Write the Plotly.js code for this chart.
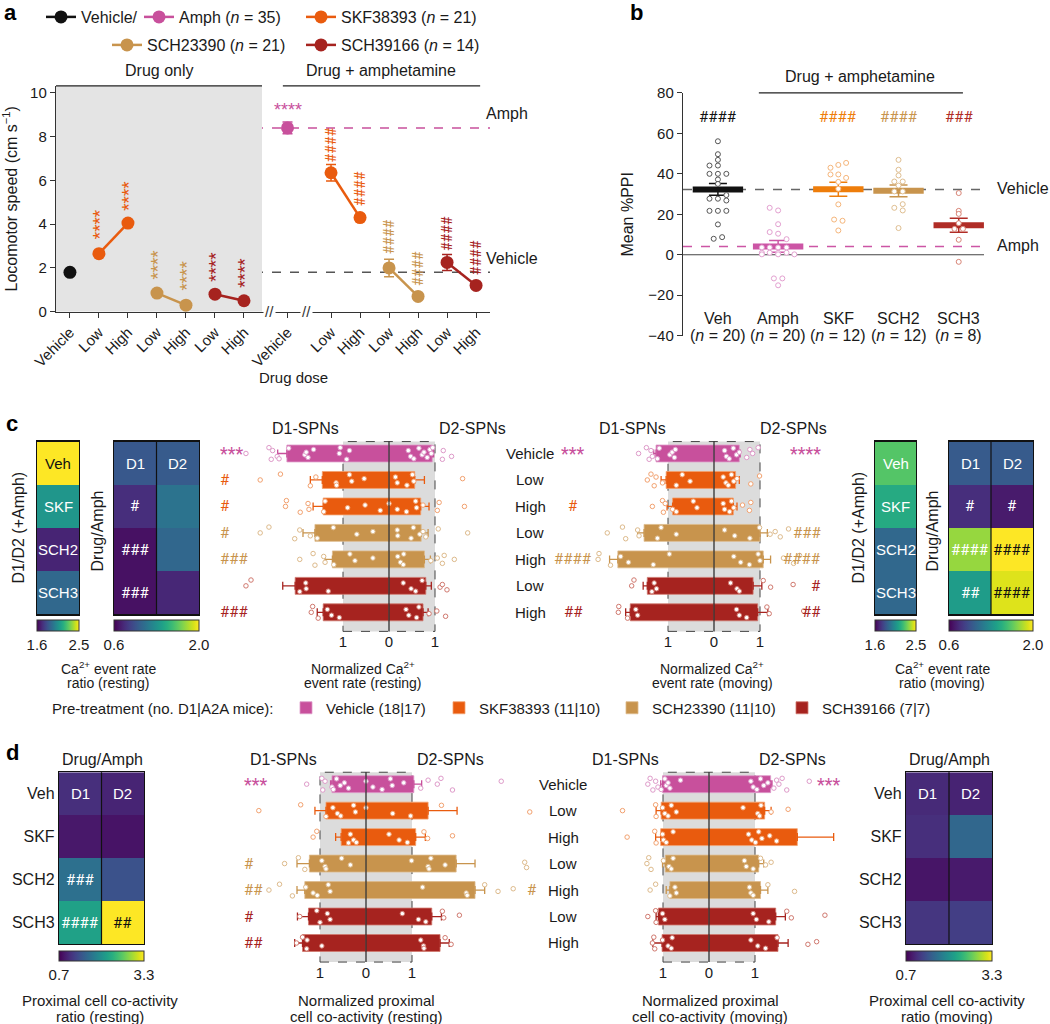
<!DOCTYPE html>
<html>
<head>
<meta charset="utf-8">
<script src="https://cdn.plot.ly/plotly-3.0.1.min.js"></script>
<style>
  body { margin: 0; background: #fff; }
  #fig { width: 1050px; height: 1024px; }
</style>
</head>
<body>
<div id="fig"></div>
<script>
// ===================== FIGURE GEOMETRY =====================
// page is 1050 x 1024 px, margins 0, so paper fractions = px / size
const W = 1050, H = 1024;
const FONT = '"Liberation Sans", Arial, sans-serif';
const SIG_FONT = 'Roboto, "Liberation Sans", sans-serif';   // upright '#' when stacked
const fx = p => p / W;
const fy = p => 1 - p / H;
const dom = (a, b) => [a / W, b / W];
const vdom = (top, bot) => [1 - bot / H, 1 - top / H];

// ===================== COLOURS =====================
const PINK = '#C8509C', ORANGE = '#E95B0E', TAN = '#C8944D', RED = '#A6231F';
const groupColor = [PINK, ORANGE, TAN, RED];
const groupLight = ['#DE9AC9', '#F2A16F', '#DDBA8B', '#D0786E'];

// ===================== PANEL A DATA (locomotor speed, cm/s) =====================
const doseLabels = ['Vehicle', 'Low', 'High', 'Low', 'High', 'Low', 'High',
                    'Vehicle', 'Low', 'High', 'Low', 'High', 'Low', 'High'];
const dosePos = [0, 1, 2, 3, 4, 5, 6, 7.5, 9, 10, 11, 12, 13, 14];
const vehSpeed = [1.8],  vehSpeedErr = [0.1];
const amphSpeed = [8.4], amphSpeedErr = [0.27];
const skfOnlySpeed = [2.65, 4.05],  skfOnlyErr = [0.12, 0.15];
const sch2OnlySpeed = [0.85, 0.3],  sch2OnlyErr = [0.1, 0.08];
const sch3OnlySpeed = [0.8, 0.5],   sch3OnlyErr = [0.1, 0.08];
const skfAmphSpeed = [6.35, 4.3],   skfAmphErr = [0.38, 0.15];
const sch2AmphSpeed = [2.0, 0.7],   sch2AmphErr = [0.4, 0.12];
const sch3AmphSpeed = [2.25, 1.2],  sch3AmphErr = [0.37, 0.12];
const onlySig = ['****', '****', '****', '****', '****', '****'];
const onlySigY = [4.0, 5.3, 2.15, 1.65, 2.05, 1.78];
const amphSig = ['####', '####', '####', '####', '####', '####'];
const amphSigY = [7.6, 5.6, 3.4, 1.95, 3.55, 2.45];

// ===================== PANEL B DATA (mean %PPI) =====================
const ppiGroups = ['Veh', 'Amph', 'SKF', 'SCH2', 'SCH3'];
const ppiN = ['20', '20', '12', '12', '8'];
const ppiMean = [32.3, 4.1, 32.4, 31.6, 14.6];
const ppiErr = [2.9, 2.9, 3.5, 2.9, 3.5];
const ppiSig = ['####', '', '####', '####', '###'];
const ppiVeh  = [56.1, 49.7, 46.9, 44.1, 44.1, 40.0, 40.0, 40.0, 37.2, 35.0, 29.5, 27.7, 27.7, 26.8, 21.7, 21.7, 21.7, 15.0, 7.9, 8.7];
const ppiAmph = [23.2, 21.9, 15.1, 11.2, 10.4, 7.7, 3.6, 3.6, 3.6, 3.6, 1.0, 1.0, 1.0, 1.0, 0.2, 0.2, 0.2, -11.7, -11.7, -15.1];
const ppiSkf  = [45.4, 44.4, 43.0, 39.7, 39.7, 38.0, 36.0, 32.6, 24.9, 17.4, 16.8, 12.0];
const ppiSch2 = [46.9, 42.0, 39.2, 36.2, 36.2, 34.2, 31.3, 31.3, 25.0, 23.2, 21.9, 13.2];
const ppiSch3 = [30.5, 21.7, 20.2, 15.6, 12.8, 12.8, 7.4, -3.5];
// horizontal spread of the dots (category units)
const ppiVehJit  = [0, 0, 0, -0.14, 0, -0.14, 0, 0.14, 0, 0, 0.14, -0.14, 0, 0.14, -0.14, 0, 0.14, 0, -0.07, 0.07];
const ppiAmphJit = [-0.14, 0, 0, -0.14, 0, 0.14, -0.27, -0.14, 0, 0.14, -0.27, -0.14, 0, 0.14, -0.27, 0, 0.27, -0.07, 0.07, 0];
const ppiSkfJit  = [0.13, 0, -0.13, -0.13, 0, 0.13, 0, 0, 0, -0.07, 0.07, 0];
const ppiSch2Jit = [0, 0, 0, -0.07, 0.07, 0, -0.07, 0.07, 0.07, -0.07, 0.07, 0];
const ppiSch3Jit = [0, 0, 0, 0, -0.07, 0.07, 0, 0];

// ===================== PANELS C/D SHARED =====================
const rowLabels = ['Vehicle', 'Low', 'High', 'Low', 'High', 'Low', 'High'];
const rowGroup = [0, 1, 1, 2, 2, 3, 3];
const groupNames = ['Vehicle (18|17)', 'SKF38393 (11|10)', 'SCH23390 (11|10)', 'SCH39166 (7|7)'];
const heatRows = ['Veh', 'SKF', 'SCH2', 'SCH3'];

// ---- c: Ca2+ event rate, resting ----
const caRestD1 = [2.22, 1.45, 1.43, 1.61, 1.23, 2.04, 1.43];
const caRestD1Err = [0.2, 0.26, 0.22, 0.26, 0.16, 0.27, 0.13];
const caRestD2 = [0.94, 0.56, 0.69, 0.70, 0.77, 0.80, 0.74];
const caRestD2Err = [0.03, 0.21, 0.18, 0.15, 0.13, 0.12, 0.11];
const caRestD1Pts = [
  [3.11, 2.61, 2.56, 2.53, 2.43, 2.39, 2.18, 1.83, 1.80, 1.76, 1.64, 1.08, 1.06, 0.92, 0.86],
  [2.80, 2.36, 1.71, 1.59, 1.15, 1.14, 0.86, 0.81, 0.54],
  [2.25, 2.23, 1.93, 1.76, 1.74, 1.42, 1.39, 0.90, 0.52, 0.19],
  [2.80, 2.61, 2.05, 1.94, 1.71, 1.56, 1.21, 0.70, 0.35],
  [1.94, 1.65, 1.61, 1.42, 1.39, 1.20, 0.85, 0.74, 0.35],
  [3.11, 3.00, 1.94, 1.81, 1.80, 1.32],
  [1.69, 1.66, 1.54, 1.34, 1.25, 1.08]
];
const caRestD2Pts = [
  [0.42, 0.47, 0.54, 0.65, 0.72, 0.76, 0.83, 0.89, 0.92, 0.95, 1.16, 1.18, 1.36],
  [0.14, 0.18, 0.39, 0.51, 0.54, 1.60],
  [0.00, 0.18, 0.38, 0.58, 0.60, 0.74, 1.05, 1.09, 1.64],
  [0.18, 0.19, 0.48, 0.53, 0.67, 0.74, 0.80, 1.07, 1.71],
  [0.19, 0.25, 0.31, 0.32, 0.91, 1.05, 1.16, 1.20, 1.42],
  [0.31, 0.48, 0.58, 0.72, 1.11, 1.16, 1.26],
  [0.37, 0.43, 0.60, 0.65, 0.87, 1.04, 1.23]
];
const caRestSigL = ['***', '#', '#', '#', '###', '', '###'];

// ---- c: Ca2+ event rate, moving ----
const caMoveD1 = [1.26, 1.04, 0.90, 1.52, 2.09, 1.45, 1.82];
const caMoveD1Err = [0.05, 0.11, 0.12, 0.14, 0.18, 0.09, 0.10];
const caMoveD2 = [0.55, 0.47, 0.42, 1.00, 1.07, 0.85, 0.95];
const caMoveD2Err = [0.02, 0.08, 0.08, 0.16, 0.16, 0.19, 0.22];
const caMoveD1Pts = [
  [1.64, 1.47, 1.41, 1.37, 1.34, 1.23, 1.19, 0.96, 0.91, 0.86, 0.84],
  [1.45, 1.37, 1.30, 1.26, 1.12, 0.82, 0.69, 0.52],
  [1.34, 1.12, 1.10, 1.06, 0.90, 0.82, 0.45, 0.37],
  [2.32, 1.99, 1.92, 1.66, 1.63, 1.23, 1.15, 0.82],
  [2.52, 2.50, 2.25, 2.03, 1.86, 1.32, 0.97],
  [1.79, 1.74, 1.35, 1.30, 1.25],
  [2.08, 2.07, 1.88, 1.70, 1.66]
];
const caMoveD2Pts = [
  [0.23, 0.27, 0.33, 0.42, 0.49, 0.55, 0.71, 0.78, 0.84, 0.96],
  [0.20, 0.26, 0.31, 0.38, 0.43, 0.50, 0.80, 0.99],
  [0.20, 0.23, 0.34, 0.38, 0.43, 0.62, 0.77, 0.80],
  [0.23, 0.45, 0.78, 0.99, 1.22, 1.33, 1.44, 1.62],
  [0.43, 0.58, 0.77, 0.96, 1.00, 1.51, 1.73, 1.86],
  [0.36, 0.50, 0.55, 1.07, 1.23, 1.72],
  [0.49, 0.55, 0.71, 1.15, 1.20, 1.95]
];
const caMoveSigL = ['***', '', '#', '', '####', '', '##'];
const caMoveSigR = ['****', '', '', '###', '####', '#', '##'];

// ---- c: heatmaps ----
const ratioRest = [2.5, 2.07, 1.69, 1.9];
const ratioMove = [2.26, 2.15, 1.9, 1.9];
const drugRestD1 = [0.98, 0.78, 0.66, 0.66];
const drugRestD2 = [1.0, 1.13, 1.06, 0.75];
const drugRestText = [['D1', 'D2'], ['#', ''], ['###', ''], ['###', '']];
const drugMoveD1 = [1.0, 0.78, 1.78, 1.37];
const drugMoveD2 = [1.0, 0.7, 2.0, 1.93];
const drugMoveText = [['D1', 'D2'], ['#', '#'], ['####', '####'], ['##', '####']];

// ---- d: proximal co-activity, resting ----
const coRestD1 = [0.74, 0.87, 0.54, 1.23, 1.33, 1.25, 1.38];
const coRestD1Err = [0.03, 0.24, 0.12, 0.27, 0.17, 0.24, 0.17];
const coRestD2 = [1.04, 1.35, 1.08, 1.96, 2.37, 1.43, 1.61];
const coRestD2Err = [0.17, 0.63, 0.21, 0.41, 0.21, 0.21, 0.20];
const coRestD1Pts = [
  [1.29, 0.96, 0.94, 0.89, 0.74, 0.71, 0.64, 0.56, 0.47, 0.38],
  [2.33, 1.42, 0.87, 0.72, 0.62, 0.55, 0.27, 0.23],
  [1.15, 1.07, 0.38, 0.34, 0.27, 0.21],
  [1.77, 1.47, 1.33, 0.96, 0.89, 0.87, 0.53, 0.34],
  [2.11, 1.88, 1.60, 1.31, 1.15, 1.06, 0.82, 0.78],
  [1.44, 1.07, 1.00, 0.84, 0.78],
  [1.51, 1.38, 1.29, 1.28, 0.96]
];
const coRestD2Pts = [
  [0.00, 0.15, 0.35, 0.53, 0.57, 0.82, 1.19, 1.35, 1.55, 1.63, 1.88, 2.94],
  [0.00, 0.58, 0.97, 1.64, 3.56],
  [0.50, 0.72, 0.90, 1.26, 1.34, 1.88],
  [0.99, 1.35, 1.37, 1.41, 1.72, 3.45, 3.49],
  [1.23, 2.18, 2.20, 2.58, 2.87, 3.20],
  [0.79, 1.14, 1.30, 1.66, 1.69, 2.03],
  [1.19, 1.25, 1.26, 1.72, 1.85]
];
const coRestSigL = ['***', '', '', '#', '##', '#', '##'];
const coRestSigR = ['', '', '', '', '#', '', ''];

// ---- d: proximal co-activity, moving ----
const coMoveD1 = [1.01, 1.04, 1.05, 0.95, 0.85, 1.10, 1.02];
const coMoveD1Err = [0.04, 0.11, 0.11, 0.06, 0.08, 0.05, 0.20];
const coMoveD2 = [1.34, 1.21, 1.92, 1.08, 1.12, 1.45, 1.50];
const coMoveD2Err = [0.03, 0.14, 0.79, 0.11, 0.16, 0.21, 0.22];
const coMoveD1Pts = [
  [1.33, 1.28, 1.22, 1.16, 1.11, 1.04, 0.96, 0.93, 0.89, 0.85, 0.62],
  [1.88, 1.16, 1.15, 1.01, 0.96, 0.89, 0.82, 0.71],
  [1.78, 1.18, 1.15, 1.01, 0.99, 0.93, 0.78],
  [1.35, 1.31, 1.26, 0.99, 0.87, 0.82, 0.78],
  [1.28, 1.16, 0.85, 0.74, 0.71],
  [1.33, 1.16, 1.15, 1.01, 0.96],
  [1.23, 1.20, 1.18, 1.01, 0.89, 0.82, 0.80]
];
const coMoveD2Pts = [
  [0.91, 0.96, 1.04, 1.12, 1.19, 1.28, 1.41, 1.47, 1.52, 1.59, 1.69, 2.18],
  [0.74, 1.06, 1.10, 1.13, 1.35, 1.72],
  [0.86, 0.93, 1.01, 1.08, 1.15, 1.32, 1.47],
  [0.77, 0.81, 0.96, 1.12, 1.23, 1.35],
  [0.88, 0.91, 0.96, 1.28, 1.86],
  [0.96, 1.03, 1.30, 1.69, 1.79, 2.52],
  [0.91, 1.06, 1.23, 1.48, 2.15, 2.34]
];
const coMoveSigR = ['***', '', '', '', '', '', ''];

// ---- d: heatmaps ----
const coDrugRestD1 = [1.04, 0.86, 1.66, 2.18];
const coDrugRestD2 = [0.96, 0.83, 1.35, 3.3];
const coDrugRestText = [['D1', 'D2'], ['', ''], ['###', ''], ['####', '##']];
const coDrugMoveD1 = [1.0, 1.04, 0.84, 1.1];
const coDrugMoveD2 = [0.95, 1.56, 0.88, 1.17];
const coDrugMoveText = [['D1', 'D2'], ['', ''], ['', ''], ['', '']];

// vertical spread of dots inside a bar row (row units)
const JIT = [0, -0.22, 0.22, -0.11, 0.11, 0.2, -0.2, 0.05, -0.05, 0.15, -0.15];

// ===================== BUILDERS =====================
const traces = [], annotations = [], shapes = [];
const layout = {};
const INK = '#1a1a1a';

function label(x, y, text, o = {}) {
    annotations.push(Object.assign({
        xref: 'paper', yref: 'paper', x: fx(x), y: fy(y), text: text, showarrow: false,
        xanchor: 'center', yanchor: 'middle', font: { size: 15, color: INK }
    }, o));
}
function textLines(x, y, pitch, arr, size) {
    arr.forEach((t, i) => label(x, y + i * pitch, t, { font: { size: size, color: INK } }));
}

// -------- panel a --------
function speed(x, y, err, color, name, legend, show) {
    return {
        type: 'scatter', mode: 'lines+markers', xaxis: 'x', yaxis: 'y', x: x, y: y,
        name: name, legend: legend, showlegend: show, hoverinfo: 'skip', cliponaxis: false,
        line: { color: color, width: 2.5 }, marker: { color: color, size: 13 },
        error_y: { type: 'data', array: err, color: color, thickness: 1.5, width: 5 }
    };
}
traces.push(speed([dosePos[0]], vehSpeed, vehSpeedErr, '#111', 'Vehicle/', 'legend', true));
traces.push(speed([dosePos[7]], amphSpeed, amphSpeedErr, PINK, 'Amph (<i>n</i> = 35)', 'legend6', true));
traces.push(speed(dosePos.slice(1, 3), skfOnlySpeed, skfOnlyErr, ORANGE, 'SKF38393 (<i>n</i> = 21)', 'legend4', true));
traces.push(speed(dosePos.slice(8, 10), skfAmphSpeed, skfAmphErr, ORANGE, '', 'legend4', false));
traces.push(speed(dosePos.slice(3, 5), sch2OnlySpeed, sch2OnlyErr, TAN, 'SCH23390 (<i>n</i> = 21)', 'legend3', true));
traces.push(speed(dosePos.slice(10, 12), sch2AmphSpeed, sch2AmphErr, TAN, '', 'legend3', false));
traces.push(speed(dosePos.slice(5, 7), sch3OnlySpeed, sch3OnlyErr, RED, 'SCH39166 (<i>n</i> = 14)', 'legend5', true));
traces.push(speed(dosePos.slice(12, 14), sch3AmphSpeed, sch3AmphErr, RED, '', 'legend5', false));

const aRange = [-0.48, 14.48];
const aBreak = 6.62;
layout.xaxis = {
    domain: dom(56, 490), range: aRange, anchor: 'y', tickvals: dosePos, ticktext: doseLabels,
    tickangle: -45, ticks: 'outside', ticklen: 5, tickcolor: '#333', showline: true,
    linecolor: '#333', linewidth: 1.2, showgrid: false, zeroline: false, tickfont: { size: 15 }
};
layout.yaxis = {
    domain: vdom(85, 311), range: [0, 10.32], anchor: 'x', tickvals: [0, 2, 4, 6, 8, 10],
    ticks: 'outside', ticklen: 5, tickcolor: '#333', showline: true, linecolor: '#333',
    linewidth: 1.2, showgrid: false, zeroline: false, tickfont: { size: 15 },
    title: { text: 'Locomotor speed (cm s<sup>−1</sup>)', font: { size: 16 }, standoff: 10 }
};
shapes.push({ type: 'rect', xref: 'x', yref: 'y', x0: aRange[0], x1: aBreak, y0: 0, y1: 10.32,
              fillcolor: '#E4E4E4', line: { width: 0 }, layer: 'below' });
shapes.push({ type: 'line', xref: 'x domain', yref: 'y', x0: 0, x1: 1, y0: vehSpeed[0], y1: vehSpeed[0],
              line: { color: '#555', width: 1.5, dash: 'dash' }, layer: 'below' });
shapes.push({ type: 'line', xref: 'x domain', yref: 'y', x0: 0, x1: 1, y0: amphSpeed[0], y1: amphSpeed[0],
              line: { color: PINK, width: 1.5, dash: 'dash' }, layer: 'below' });
shapes.push({ type: 'line', xref: 'x', yref: 'paper', x0: aRange[0], x1: aBreak, y0: fy(85), y1: fy(85),
              line: { color: '#222', width: 1.3 } });
shapes.push({ type: 'line', xref: 'x', yref: 'paper', x0: 7.34, x1: 14.14, y0: fy(85), y1: fy(85),
              line: { color: '#222', width: 1.3 } });
[6.88, 8.16].forEach(b => annotations.push({ xref: 'x', yref: 'y', x: b, y: 0, text: '//', showarrow: false,
    bgcolor: '#fff', font: { size: 15, color: '#333' } }));

const onlyColors = [ORANGE, ORANGE, TAN, TAN, RED, RED];
onlySig.forEach((t, i) => annotations.push({ xref: 'x', yref: 'y', x: dosePos[i + 1], y: onlySigY[i], text: t,
    textangle: -90, showarrow: false, font: { family: SIG_FONT, size: 17, color: onlyColors[i] } }));
amphSig.forEach((t, i) => annotations.push({ xref: 'x', yref: 'y', x: dosePos[i + 8], y: amphSigY[i], text: t,
    textangle: -90, showarrow: false, font: { family: SIG_FONT, size: 14, color: onlyColors[i] } }));
annotations.push({ xref: 'x', yref: 'y', x: dosePos[7], y: 9.22, text: '****', showarrow: false,
    font: { size: 18, color: PINK } });

label(159, 70, 'Drug only', { font: { size: 16 } });
label(381, 70, 'Drug + amphetamine', { font: { size: 16 } });
label(484, 113, 'Amph', { xanchor: 'left', font: { size: 16 } });
label(484, 258, 'Vehicle', { xanchor: 'left', font: { size: 16 } });
label(293, 377, 'Drug dose', { font: { size: 15 } });

// -------- panel b --------
const ppiColors = ['#111111', '#CC55A5', '#EE7D0A', '#C8944D', '#B02C26'];
const ppiLight = ['#555555', '#E3A0D0', '#F5B57A', '#DFBE90', '#D88476'];
const ppiPoints = [ppiVeh, ppiAmph, ppiSkf, ppiSch2, ppiSch3];
const ppiJit = [ppiVehJit, ppiAmphJit, ppiSkfJit, ppiSch2Jit, ppiSch3Jit];
ppiMean.forEach((m, g) => {
    traces.push({
        type: 'scatter', mode: 'markers', xaxis: 'x2', yaxis: 'y2', x: [g], y: [m],
        marker: { symbol: 'line-ew', size: 36, color: ppiColors[g], line: { color: ppiColors[g], width: 6 } },
        error_y: { type: 'data', array: [ppiErr[g]], color: ppiColors[g], thickness: 1.5, width: 9 },
        showlegend: false, hoverinfo: 'skip'
    });
    traces.push({
        type: 'scatter', mode: 'markers', xaxis: 'x2', yaxis: 'y2',
        x: ppiPoints[g].map((v, i) => g + ppiJit[g][i]), y: ppiPoints[g],
        marker: { color: '#fff', size: 5, line: { color: ppiLight[g], width: 1 } },
        showlegend: false, hoverinfo: 'skip', cliponaxis: false
    });
    if (ppiSig[g]) annotations.push({ xref: 'x2', yref: 'y2', x: g, y: 68.3, text: ppiSig[g], showarrow: false,
        font: { family: SIG_FONT, size: 15, color: ppiColors[g] } });
    annotations.push({ xref: 'x2', yref: 'paper', x: g, y: fy(307), text: ppiGroups[g], showarrow: false,
        font: { size: 16, color: INK } });
    annotations.push({ xref: 'x2', yref: 'paper', x: g, y: fy(324), text: '(<i>n</i> = ' + ppiN[g] + ')',
        showarrow: false, font: { size: 16, color: INK } });
});
layout.xaxis2 = { domain: dom(683, 984), range: [-0.58, 4.42], anchor: 'y2', visible: false };
layout.yaxis2 = {
    domain: vdom(92, 335), range: [-40, 80], anchor: 'x2', tickvals: [-40, -20, 0, 20, 40, 60, 80],
    ticks: 'outside', ticklen: 5, tickcolor: '#333', showline: true, linecolor: '#333', linewidth: 1.2,
    showgrid: false, zeroline: false, tickfont: { size: 15 },
    title: { text: 'Mean %PPI', font: { size: 16 }, standoff: 10 }
};
shapes.push({ type: 'line', xref: 'x2 domain', yref: 'y2', x0: 0, x1: 1, y0: 0, y1: 0,
              line: { color: '#444', width: 1.2 }, layer: 'below' });
shapes.push({ type: 'line', xref: 'x2 domain', yref: 'y2', x0: 0, x1: 1, y0: ppiMean[0], y1: ppiMean[0],
              line: { color: '#666', width: 1.5, dash: 'dash' }, layer: 'below' });
shapes.push({ type: 'line', xref: 'x2 domain', yref: 'y2', x0: 0, x1: 1, y0: ppiMean[1], y1: ppiMean[1],
              line: { color: ppiColors[1], width: 1.5, dash: 'dash' }, layer: 'below' });
shapes.push({ type: 'line', xref: 'x2', yref: 'paper', x0: 0.68, x1: 4.07, y0: fy(92), y1: fy(92),
              line: { color: '#222', width: 1.3 } });
label(860, 76, 'Drug + amphetamine', { font: { size: 16 } });
label(995, 188, 'Vehicle', { xanchor: 'left', font: { size: 16 } });
label(995, 245, 'Amph', { xanchor: 'left', font: { size: 16 } });

// -------- heatmaps --------
function heatmap(n, px0, px1, top, bot, zRows, zmin, zmax, cbTop, cbThick, cells, rowTicks) {
    const xa = 'x' + n, ya = 'y' + n, nCols = zRows[0].length;
    traces.push({
        type: 'heatmap', xaxis: xa, yaxis: ya, z: zRows, x: zRows[0].map((v, i) => i), y: zRows.map((v, i) => i),
        colorscale: 'Viridis', zmin: zmin, zmax: zmax, hoverinfo: 'skip',
        colorbar: {
            orientation: 'h', x: fx(px0), xanchor: 'left', y: fy(cbTop), yanchor: 'top',
            len: px1 - px0, lenmode: 'pixels', thickness: cbThick, thicknessmode: 'pixels',
            xpad: 0, ypad: 0, outlinewidth: 1, outlinecolor: '#333', tickvals: [zmin, zmax],
            ticktext: [zmin.toFixed(1), zmax.toFixed(1)], ticks: '', tickfont: { size: 15 }
        }
    });
    cells.forEach((row, r) => row.forEach((t, c) => {
        if (!t) return;
        const norm = (zRows[r][c] - zmin) / (zmax - zmin);
        annotations.push({ xref: xa, yref: ya, x: c, y: r, text: t, showarrow: false,
            font: { family: t.charAt(0) === '#' ? SIG_FONT : FONT, size: 15, color: norm > 0.9 ? '#111' : '#fff' } });
    }));
    if (nCols === 2) shapes.push({ type: 'line', xref: xa, yref: ya + ' domain', x0: 0.5, x1: 0.5, y0: 0, y1: 1,
        line: { color: '#111', width: 1.2 } });
    layout['xaxis' + n] = {
        domain: dom(px0, px1), range: [-0.5, nCols - 0.5], anchor: ya, showticklabels: false, ticks: '',
        showgrid: false, zeroline: false, showline: true, mirror: true, linecolor: '#111', linewidth: 1.2
    };
    layout['yaxis' + n] = {
        domain: vdom(top, bot), range: [3.5, -0.5], anchor: xa, showticklabels: !!rowTicks,
        tickvals: [0, 1, 2, 3], ticktext: rowTicks || heatRows, ticks: '', showgrid: false, zeroline: false,
        showline: true, mirror: true, linecolor: '#111', linewidth: 1.2, tickfont: { size: 16 }
    };
}
const pair = (a, b) => a.map((v, i) => [v, b[i]]);
heatmap(3, 37, 79, 441, 614, ratioRest.map(v => [v]), 1.6, 2.5, 620, 11, heatRows.map(r => [r]), null);
heatmap(4, 114, 199, 441, 614, pair(drugRestD1, drugRestD2), 0.6, 2.0, 620, 11, drugRestText, null);
heatmap(7, 875, 916, 441, 614, ratioMove.map(v => [v]), 1.6, 2.5, 620, 11, heatRows.map(r => [r]), null);
heatmap(8, 949, 1033, 441, 614, pair(drugMoveD1, drugMoveD2), 0.6, 2.0, 620, 11, drugMoveText, null);
heatmap(9, 59, 144, 772, 944, pair(coDrugRestD1, coDrugRestD2), 0.7, 3.3, 951, 10, coDrugRestText, heatRows);
heatmap(12, 906, 992, 772, 944, pair(coDrugMoveD1, coDrugMoveD2), 0.7, 3.3, 951, 10, coDrugMoveText, heatRows);

// -------- D1 / D2 bar panels --------
const legendIds = ['legend2', 'legend7', 'legend8', 'legend9'];
function spnPanel(n, zeroPx, range, top, bot, d1, d1e, d2, d2e, d1p, d2p, legendOn) {
    const xa = 'x' + n, ya = 'y' + n;
    for (let g = 0; g < 4; g++) {
        const rows = rowGroup.map((gg, r) => gg === g ? r : -1).filter(r => r >= 0);
        const common = { type: 'bar', orientation: 'h', xaxis: xa, yaxis: ya, y: rows, width: 0.64,
            marker: { color: groupColor[g], line: { color: groupLight[g], width: 0.8 } }, hoverinfo: 'skip' };
        traces.push(Object.assign({}, common, {
            x: rows.map(r => -d1[r]), name: groupNames[g], legend: legendIds[g], showlegend: legendOn,
            error_x: { type: 'data', symmetric: false, array: rows.map(() => 0), arrayminus: rows.map(r => d1e[r]),
                       color: groupColor[g], thickness: 1.3, width: 4 }
        }));
        traces.push(Object.assign({}, common, {
            x: rows.map(r => d2[r]), showlegend: false, legend: legendIds[g],
            error_x: { type: 'data', symmetric: false, array: rows.map(r => d2e[r]), arrayminus: rows.map(() => 0),
                       color: groupColor[g], thickness: 1.3, width: 4 }
        }));
        const xs = [], ys = [];
        rows.forEach(r => {
            d1p[r].forEach((v, i) => { xs.push(-v); ys.push(r + JIT[i % JIT.length]); });
            d2p[r].forEach((v, i) => { xs.push(v); ys.push(r + JIT[(i + 3) % JIT.length]); });
        });
        traces.push({ type: 'scatter', mode: 'markers', xaxis: xa, yaxis: ya, x: xs, y: ys, showlegend: false,
            hoverinfo: 'skip', cliponaxis: false,
            marker: { color: '#fff', size: 4.5, line: { color: groupLight[g], width: 1 } } });
    }
    layout['xaxis' + n] = {
        domain: dom(zeroPx + 46 * range[0], zeroPx + 46 * range[1]), range: range, anchor: ya,
        tickvals: [-1, 0, 1], ticktext: ['1', '0', '1'], ticks: '', showline: false, showgrid: false,
        zeroline: false, tickfont: { size: 15 }
    };
    layout['yaxis' + n] = { domain: vdom(top, bot), range: [6.72, -0.45], anchor: xa, visible: false };
    shapes.push({ type: 'rect', xref: xa, yref: ya + ' domain', x0: -1, x1: 1, y0: 0, y1: 1,
        fillcolor: '#DCDCDC', line: { color: '#444', width: 1, dash: 'dash' }, layer: 'below' });
    shapes.push({ type: 'line', xref: xa, yref: ya + ' domain', x0: 0, x1: 0, y0: 0, y1: 1,
        line: { color: '#222', width: 1.2 } });
}
function sigColumn(px, ya, sig) {
    sig.forEach((t, r) => {
        if (!t) return;
        const stars = t.charAt(0) === '*';
        annotations.push({ xref: 'paper', yref: ya, x: fx(px), y: r, text: t, showarrow: false,
            font: { family: SIG_FONT, size: stars ? 18 : 15, color: groupColor[rowGroup[r]] } });
    });
}
function rowNames(px, ya) {
    rowLabels.forEach((t, r) => annotations.push({ xref: 'paper', yref: ya, x: fx(px), y: r, text: t,
        showarrow: false, font: { size: 15, color: INK } }));
}

spnPanel(5, 389, [-3.3, 2.0], 441, 631, caRestD1, caRestD1Err, caRestD2, caRestD2Err, caRestD1Pts, caRestD2Pts, true);
spnPanel(6, 714, [-3.0, 2.6], 441, 631, caMoveD1, caMoveD1Err, caMoveD2, caMoveD2Err, caMoveD1Pts, caMoveD2Pts, false);
spnPanel(10, 366, [-2.6, 3.7], 772, 962, coRestD1, coRestD1Err, coRestD2, coRestD2Err, coRestD1Pts, coRestD2Pts, false);
spnPanel(11, 709, [-2.6, 3.0], 772, 962, coMoveD1, coMoveD1Err, coMoveD2, coMoveD2Err, coMoveD1Pts, coMoveD2Pts, false);

sigColumn(218, 'y5', caRestSigL);
sigColumn(573, 'y6', caMoveSigL);
sigColumn(823, 'y6', caMoveSigR);
sigColumn(242, 'y10', coRestSigL);
sigColumn(532, 'y10', coRestSigR);
sigColumn(843, 'y11', coMoveSigR);
rowNames(530, 'y6');
rowNames(563, 'y11');

// -------- panel texts --------
label(305, 428, 'D1-SPNs', { font: { size: 16 } });
label(472, 428, 'D2-SPNs', { font: { size: 16 } });
label(632, 428, 'D1-SPNs', { font: { size: 16 } });
label(793, 428, 'D2-SPNs', { font: { size: 16 } });
label(283, 759, 'D1-SPNs', { font: { size: 16 } });
label(450, 759, 'D2-SPNs', { font: { size: 16 } });
label(625, 759, 'D1-SPNs', { font: { size: 16 } });
label(792, 759, 'D2-SPNs', { font: { size: 16 } });

label(18, 527, 'D1/D2 (+Amph)', { textangle: -90, font: { size: 16 } });
label(97, 531, 'Drug/Amph', { textangle: -90, font: { size: 16 } });
label(858, 527, 'D1/D2 (+Amph)', { textangle: -90, font: { size: 16 } });
label(932, 531, 'Drug/Amph', { textangle: -90, font: { size: 16 } });
label(102, 759, 'Drug/Amph', { font: { size: 16 } });
label(949, 759, 'Drug/Amph', { font: { size: 16 } });

textLines(108, 668, 15, ['Ca<sup>2+</sup> event rate', 'ratio (resting)'], 14);
textLines(363, 668, 15, ['Normalized Ca<sup>2+</sup>', 'event rate (resting)'], 14);
textLines(712, 668, 15, ['Normalized Ca<sup>2+</sup>', 'event rate (moving)'], 14);
textLines(942, 668, 15, ['Ca<sup>2+</sup> event rate', 'ratio (moving)'], 14);
textLines(100, 1000, 16, ['Proximal cell co-activity', 'ratio (resting)'], 15);
textLines(366, 1000, 16, ['Normalized proximal', 'cell co-activity (resting)'], 15);
textLines(710, 1000, 16, ['Normalized proximal', 'cell co-activity (moving)'], 15);
textLines(947, 1000, 16, ['Proximal cell co-activity', 'ratio (moving)'], 15);

label(50, 708, 'Pre-treatment (no. D1|A2A mice):', { xanchor: 'left', font: { size: 15 } });

label(10, 12, '<b>a</b>', { font: { size: 22, color: '#000' } });
label(636, 12, '<b>b</b>', { font: { size: 22, color: '#000' } });
label(12, 423, '<b>c</b>', { font: { size: 22, color: '#000' } });
label(12, 752, '<b>d</b>', { font: { size: 22, color: '#000' } });

// ===================== LAYOUT =====================
// each legend entry sits in its own legend box, placed by the start of its text
const TEXT_OFFSET = 36;
function legendAt(textX, y, size) {
    return { orientation: 'h', xanchor: 'left', yanchor: 'middle', x: fx(textX - TEXT_OFFSET), y: fy(y),
             bgcolor: 'rgba(0,0,0,0)', font: { size: size, color: INK }, itemwidth: 30, tracegroupgap: 0 };
}
Object.assign(layout, {
    width: W, height: H, margin: { l: 0, r: 0, t: 0, b: 0 },
    font: { family: FONT, size: 15, color: INK },
    paper_bgcolor: '#fff', plot_bgcolor: 'rgba(0,0,0,0)',
    barmode: 'overlay', hovermode: false, showlegend: true,
    legend:  legendAt(77, 16, 16),
    legend6: legendAt(175, 16, 16),
    legend3: legendAt(143, 45, 16),
    legend4: legendAt(337, 16, 16),
    legend5: legendAt(337, 45, 16),
    legend2: legendAt(322, 708, 15),
    legend7: legendAt(475, 708, 15),
    legend8: legendAt(648, 708, 15),
    legend9: legendAt(818, 708, 15),
    shapes: shapes, annotations: annotations
});

Plotly.newPlot('fig', traces, layout, { displayModeBar: false, staticPlot: true });
</script>
</body>
</html>
